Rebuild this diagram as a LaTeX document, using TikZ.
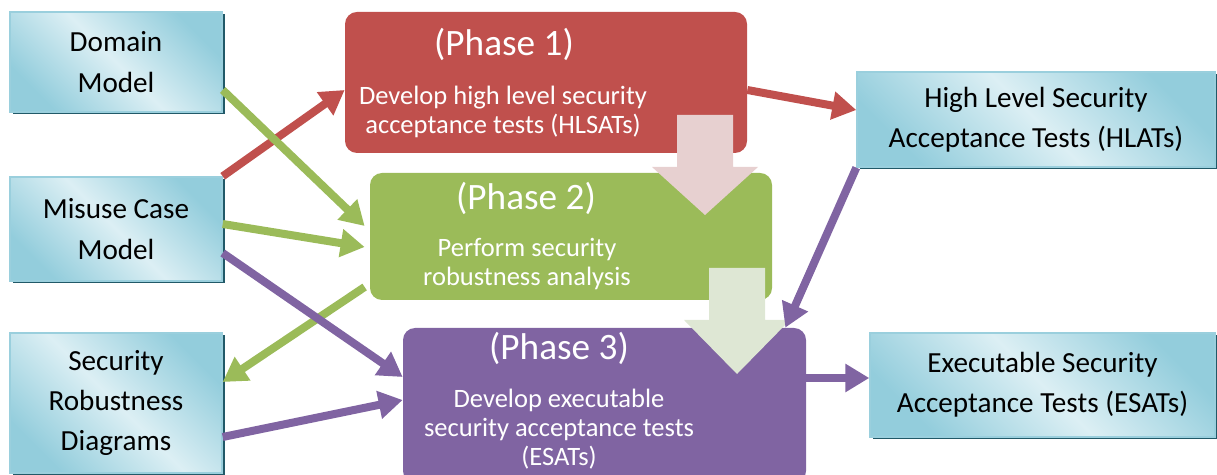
\documentclass[tikz,border=0pt]{standalone}
\usepackage{fontspec}
\setmainfont{Carlito}
\usetikzlibrary{arrows.meta, shadows}

\definecolor{phaseone}{HTML}{C0504D}
\definecolor{phasetwo}{HTML}{9BBB59}
\definecolor{phasethree}{HTML}{8064A2}
\definecolor{boxlight}{HTML}{DCEFF4}
\definecolor{boxdark}{HTML}{93CDDC}
\definecolor{boxedge}{HTML}{9ACFDD}
\definecolor{boxshadow}{HTML}{215968}
\definecolor{flowpink}{HTML}{E7D0D0}
\definecolor{flowgreen}{HTML}{DEE7D4}

\begin{document}
\begin{tikzpicture}[
  >={Triangle[length=0.48cm, width=0.54cm]},
  artefact/.style={draw=boxedge, line width=0.8pt, top color=boxdark, bottom color=boxdark,
    middle color=boxlight, shading angle=-45, inner sep=0pt, align=center,
    drop shadow={shadow xshift=0.05cm, shadow yshift=-0.05cm, fill=boxshadow, opacity=1},
    font=\fontsize{16.6}{23}\selectfont},
  phase/.style={fill=#1, rounded corners=0.24cm, inner sep=0pt},
  phasetitle/.style={text=white, inner sep=0pt, font=\fontsize{21.2}{25}\selectfont},
  phasetext/.style={text=white, inner sep=0pt, align=center, font=\fontsize{15.1}{16.5}\selectfont},
  flow/.style={->, line width=0.16cm, draw=#1},
]
  \useasboundingbox (0,0) rectangle (24.34,9.5);

  % inputs on the left, outputs on the right
  \node[artefact, minimum width=4.24cm, minimum height=2.0cm] (domain) at (2.32,8.26) {Domain\\Model};
  \node[artefact, minimum width=4.24cm, minimum height=2.08cm] (misuse) at (2.32,4.92) {Misuse Case\\Model};
  \node[artefact, minimum width=4.24cm, minimum height=2.8cm] (srd) at (2.32,1.44) {Security\\Robustness\\Diagrams};
  \node[artefact, minimum width=7.16cm, minimum height=1.9cm] (hlats) at (20.72,7.11) {High Level Security\\Acceptance Tests (HLATs)};
  \node[artefact, minimum width=6.9cm, minimum height=2.08cm] (esats) at (20.85,1.8) {Executable Security\\Acceptance Tests (ESATs)};

  % the three phases
  \node[phase=phaseone, minimum width=8.04cm, minimum height=2.82cm] (p1) at (10.92,7.85) {};
  \node[phase=phasetwo, minimum width=8.04cm, minimum height=2.54cm] (p2) at (11.42,4.77) {};
  \node[phase=phasethree, minimum width=8.06cm, minimum height=3.1cm] (p3) at (12.09,1.39) {};

  \node[phasetitle] (p1title) at (10.08,8.62) {(Phase 1)};
  \node[phasetext] (p1text) at (10.06,7.27) {Develop high level security\\acceptance tests (HLSATs)};
  \node[phasetitle] (p2title) at (10.52,5.54) {(Phase 2)};
  \node[phasetext] (p2text) at (10.54,4.21) {Perform security\\robustness analysis};
  \node[phasetitle] (p3title) at (11.18,2.54) {(Phase 3)};
  \node[phasetext] (p3text) at (11.18,0.92) {Develop executable\\security acceptance tests\\(ESATs)};

  % block arrows from one phase to the next
  \foreach \x/\top/\base/\tip/\col in {14.1/7.2/6.16/5.2/flowpink, 14.74/4.14/3.1/2.02/flowgreen}
    \fill[\col] ({\x-0.56},\top) -- ({\x+0.56},\top) -- ({\x+0.56},\base) -- ({\x+1.06},\base)
      -- (\x,\tip) -- ({\x-1.06},\base) -- ({\x-0.56},\base) -- cycle;

  % phase 1
  \draw[flow=phaseone] (misuse.north east) -- ([yshift=-0.15cm]p1.west);
  \draw[flow=phaseone] ([yshift=-0.15cm]p1.east) -- ([yshift=0.19cm]hlats.west);
  % phase 2
  \draw[flow=phasetwo] ([yshift=-0.56cm]domain.east) -- ([xshift=-0.1cm, yshift=0.21cm]p2.west);
  \draw[flow=phasetwo] ([yshift=0.1cm]misuse.east) -- ([xshift=-0.1cm, yshift=-0.21cm]p2.west);
  \draw[flow=phasetwo] ([xshift=-0.1cm, yshift=-1.01cm]p2.west) -- ([yshift=0.42cm]srd.east);
  % phase 3
  \draw[flow=phasethree] ([yshift=-0.48cm]misuse.east) -- ([yshift=0.57cm]p3.west);
  \draw[flow=phasethree] ([yshift=-0.68cm]srd.east) -- ([yshift=0.11cm]p3.west);
  \draw[flow=phasethree] (hlats.south west) -- ([xshift=-0.42cm]p3.north east);
  \draw[flow=phasethree] ([yshift=0.55cm]p3.east) -- ([yshift=0.14cm]esats.west);
\end{tikzpicture}
\end{document}
